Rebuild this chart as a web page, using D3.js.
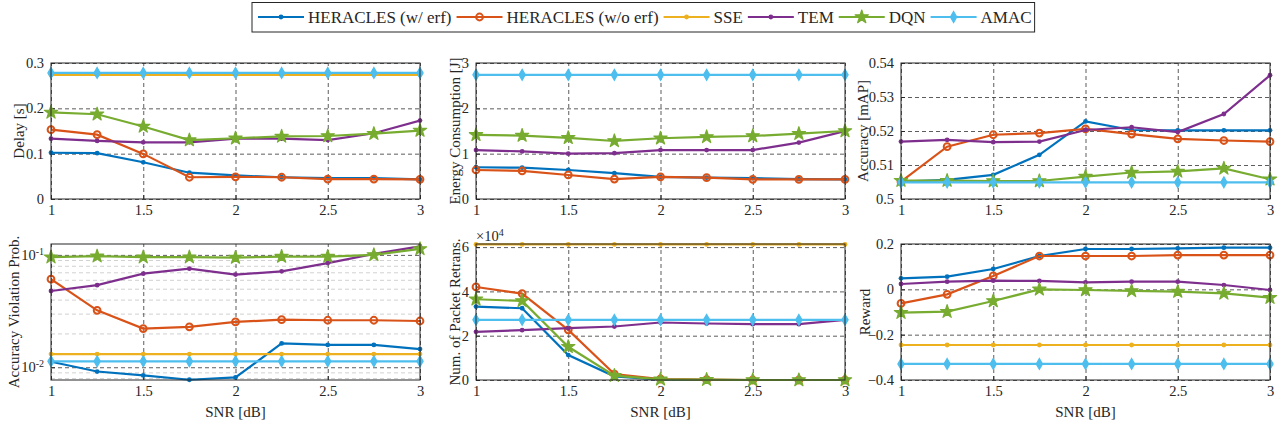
<!DOCTYPE html>
<html>
<head>
<meta charset="utf-8">
<script src="https://cdn.jsdelivr.net/npm/d3@7"></script>
<style>
  body { margin: 0; background: #fff; }
</style>
</head>
<body>
<svg id="chart" width="1284" height="428" font-family="Liberation Serif"></svg>
<script>
const FONT = 'Liberation Serif';

// x values shared by every panel
const snr = [1, 1.25, 1.5, 1.75, 2, 2.25, 2.5, 2.75, 3];
const xTickValues = [1, 1.5, 2, 2.5, 3];

const seriesNames = ['HERACLES (w/ erf)', 'HERACLES (w/o erf)', 'SSE', 'TEM', 'DQN', 'AMAC'];
const seriesColors = ['#0072BD', '#D95319', '#EDB120', '#7E2F8E', '#77AC30', '#4DBEEE'];
const seriesMarkers = ['dot', 'circle', 'dot', 'dot', 'star', 'diamond'];

// one row per series, same order as seriesNames (null = not shown)
const delay = [
  [0.102, 0.101, 0.081, 0.058, 0.052, 0.048, 0.046, 0.046, 0.0435],
  [0.153, 0.142, 0.0995, 0.048, 0.049, 0.048, 0.044, 0.044, 0.0435],
  [0.274, 0.274, 0.274, 0.274, 0.274, 0.274, 0.274, 0.274, 0.274],
  [0.133, 0.128, 0.125, 0.125, 0.133, 0.133, 0.130, 0.145, 0.173],
  [0.191, 0.187, 0.160, 0.130, 0.134, 0.138, 0.139, 0.144, 0.151],
  [0.278, 0.278, 0.278, 0.278, 0.278, 0.278, 0.278, 0.278, 0.278]
];

const energy = [
  [0.70, 0.69, 0.64, 0.57, 0.49, 0.47, 0.46, 0.44, 0.435],
  [0.64, 0.62, 0.53, 0.44, 0.49, 0.47, 0.435, 0.435, 0.435],
  null,
  [1.08, 1.05, 1.00, 1.01, 1.08, 1.08, 1.08, 1.245, 1.50],
  [1.415, 1.40, 1.35, 1.28, 1.34, 1.37, 1.39, 1.44, 1.50],
  [2.74, 2.74, 2.74, 2.74, 2.74, 2.74, 2.74, 2.74, 2.74]
];

const accuracy = [
  [0.5051, 0.5056, 0.5071, 0.5130, 0.5228, 0.5203, 0.5202, 0.5202, 0.5202],
  [0.5051, 0.5154, 0.5189, 0.5194, 0.5206, 0.5191, 0.5177, 0.5172, 0.5169],
  null,
  [0.5169, 0.5174, 0.5167, 0.5169, 0.5203, 0.5211, 0.5197, 0.5250, 0.5364],
  [0.5054, 0.5054, 0.5053, 0.5053, 0.5066, 0.5078, 0.5081, 0.5090, 0.5058],
  [0.5049, 0.5049, 0.5049, 0.5049, 0.5049, 0.5049, 0.5049, 0.5049, 0.5049]
];

const violation = [
  [0.0112, 0.00916, 0.00845, 0.00774, 0.00811, 0.0163, 0.0158, 0.0158, 0.0145],
  [0.0608, 0.0321, 0.0221, 0.0229, 0.0253, 0.0265, 0.0262, 0.0262, 0.0258],
  [0.0131, 0.0131, 0.0131, 0.0131, 0.0131, 0.0131, 0.0131, 0.0131, 0.0131],
  [0.0477, 0.0538, 0.0681, 0.0754, 0.0668, 0.0714, 0.0845, 0.102, 0.119],
  [0.0954, 0.0973, 0.0954, 0.0954, 0.0947, 0.0967, 0.0967, 0.100, 0.113],
  [0.0113, 0.0113, 0.0113, 0.0113, 0.0113, 0.0113, 0.0113, 0.0113, 0.0113]
];

const retrans = [
  [33150, 32400, 11250, 1650, 150, 0, 0, 0, 0],
  [42000, 39000, 22650, 2700, 450, 150, 0, 0, 0],
  [61200, 61200, 61200, 61200, 61200, 61200, 61200, 61200, 61200],
  [21750, 22500, 23400, 24150, 25950, 25500, 25200, 25200, 27150],
  [36450, 35700, 15000, 1950, 300, 150, 0, 0, 0],
  [27150, 27150, 27150, 27150, 27150, 27150, 27150, 27150, 27150]
];

const reward = [
  [0.0485, 0.056, 0.0897, 0.147, 0.178, 0.178, 0.181, 0.184, 0.184],
  [-0.062, -0.022, 0.059, 0.147, 0.147, 0.147, 0.151, 0.151, 0.151],
  [-0.2456, -0.2456, -0.2456, -0.2456, -0.2456, -0.2456, -0.2456, -0.2456, -0.2456],
  [0.0235, 0.034, 0.038, 0.037, 0.031, 0.034, 0.034, 0.019, -0.003],
  [-0.103, -0.0985, -0.0515, 0, -0.003, -0.007, -0.010, -0.018, -0.037],
  [-0.329, -0.329, -0.329, -0.329, -0.329, -0.329, -0.329, -0.329, -0.329]
];

const svg = d3.select('#chart');

const colLeft = [51, 476, 901];
const colRight = [420, 845, 1270];
const rowTop = [63, 244];
const rowBottom = [199, 380];

const panels = [
  { data: delay, col: 0, row: 0, domain: [0, 0.3], ticks: [0, 0.1, 0.2, 0.3], fmt: d3.format('~g'), label: 'Delay [s]', labelOff: 32 },
  { data: energy, col: 1, row: 0, domain: [0, 3], ticks: [0, 1, 2, 3], fmt: d3.format('~g'), label: 'Energy Consumption [J]', labelOff: 21 },
  { data: accuracy, col: 2, row: 0, domain: [0.5, 0.54], ticks: [0.5, 0.51, 0.52, 0.53, 0.54], fmt: d3.format('~g'), label: 'Accuracy [mAP]', labelOff: 38 },
  { data: violation, col: 0, row: 1, domain: [0.0077, 0.125], ticks: [0.01, 0.1], log: true, label: 'Accuracy Violation Prob.', labelOff: 37, xLabel: true },
  { data: retrans, col: 1, row: 1, domain: [0, 61400], ticks: [0, 20000, 40000, 60000], fmt: d => d / 1e4, label: 'Num. of Packet Retrans.', labelOff: 21, xLabel: true, exponent: 4 },
  { data: reward, col: 2, row: 1, domain: [-0.4, 0.2], ticks: [-0.4, -0.2, 0, 0.2], fmt: d3.format('~g'), label: 'Reward', labelOff: 36, xLabel: true }
];

function drawMarker(sel, kind, color) {
  const sym = d3.symbol();
  if (kind === 'dot') {
    sel.append('path').attr('d', sym.type(d3.symbolCircle).size(18)()).attr('fill', color);
  } else if (kind === 'circle') {
    sel.append('path').attr('d', sym.type(d3.symbolCircle).size(36)())
      .attr('fill', 'none').attr('stroke', color).attr('stroke-width', 2);
  } else if (kind === 'star') {
    sel.append('path').attr('d', sym.type(d3.symbolStar).size(55)())
      .attr('fill', color).attr('stroke', color).attr('stroke-width', 1.2).attr('stroke-linejoin', 'round');
  } else if (kind === 'diamond') {
    sel.append('path').attr('d', sym.type(d3.symbolDiamond).size(34)())
      .attr('fill', color).attr('stroke', color).attr('stroke-width', 1.2);
  }
}

function styleTicks(a) {
  a.attr('font-family', FONT);
  a.select('.domain').remove();
}

panels.forEach((p, i) => {
  const left = colLeft[p.col], right = colRight[p.col];
  const top = rowTop[p.row], bottom = rowBottom[p.row];

  const x = d3.scaleLinear().domain([1, 3]).range([left, right]);
  const y = (p.log ? d3.scaleLog() : d3.scaleLinear()).domain(p.domain).range([bottom, top]);

  const g = svg.append('g');

  // minor grid on the log panel
  if (p.log) {
    const minor = [];
    [0.001, 0.01, 0.1].forEach(dec => {
      for (let k = 2; k <= 9; k++) {
        const v = dec * k;
        if (v > p.domain[0] && v < p.domain[1]) minor.push(v);
      }
    });
    g.append('g')
      .attr('transform', `translate(${left},0)`)
      .call(d3.axisLeft(y).tickValues(minor).tickSize(-(right - left)).tickFormat(''))
      .call(styleTicks)
      .call(a => a.selectAll('line').attr('stroke', '#c4c4c4').attr('stroke-dasharray', '4,3').attr('stroke-width', 0.8));
  }

  // major grid
  g.append('g')
    .attr('transform', `translate(0,${bottom})`)
    .call(d3.axisBottom(x).tickValues(xTickValues).tickSize(-(bottom - top)).tickFormat(''))
    .call(styleTicks)
    .call(a => a.selectAll('line').attr('stroke', '#333').attr('stroke-dasharray', '4,3').attr('stroke-width', 0.8));
  g.append('g')
    .attr('transform', `translate(${left},0)`)
    .call(d3.axisLeft(y).tickValues(p.ticks).tickSize(-(right - left)).tickFormat(''))
    .call(styleTicks)
    .call(a => a.selectAll('line').attr('stroke', '#333').attr('stroke-dasharray', '4,3').attr('stroke-width', 0.8));

  // tick labels and inward ticks
  g.append('g')
    .attr('transform', `translate(0,${bottom})`)
    .call(d3.axisBottom(x).tickValues(xTickValues).tickSize(-4).tickPadding(6).tickFormat(d3.format('~g')))
    .call(styleTicks)
    .call(a => a.selectAll('line').attr('stroke', '#262626'))
    .call(a => a.selectAll('text').attr('font-size', '14.5px').attr('font-family', FONT).attr('fill', '#262626'));

  const yAxis = g.append('g')
    .attr('transform', `translate(${left},0)`)
    .call(d3.axisLeft(y).tickValues(p.ticks).tickSize(-4).tickPadding(7).tickFormat(p.log ? '' : p.fmt))
    .call(styleTicks)
    .call(a => a.selectAll('line').attr('stroke', '#262626'))
    .call(a => a.selectAll('text').attr('font-size', '14.5px').attr('font-family', FONT).attr('fill', '#262626'));

  if (p.log) {
    yAxis.selectAll('.tick text').each(function (d) {
      const t = d3.select(this);
      t.append('tspan').text('10');
      t.append('tspan').attr('dy', '-0.55em').attr('font-size', '10px').text(Math.round(Math.log10(d)));
    });
  }

  // clip lines to the plot box
  const clipId = 'clip' + i;
  svg.append('clipPath').attr('id', clipId)
    .append('rect').attr('x', left).attr('y', top - 1).attr('width', right - left).attr('height', bottom - top + 2);

  const line = d3.line().x((d, k) => x(snr[k])).y(d => y(d));

  p.data.forEach((vals, s) => {
    if (!vals) return;
    g.append('path')
      .attr('d', line(vals))
      .attr('fill', 'none')
      .attr('stroke', seriesColors[s])
      .attr('stroke-width', 2.2)
      .attr('clip-path', `url(#${clipId})`);
    const m = g.append('g').selectAll('g')
      .data(vals)
      .enter().append('g')
      .attr('transform', (d, k) => `translate(${x(snr[k])},${y(d)})`);
    drawMarker(m, seriesMarkers[s], seriesColors[s]);
  });

  // box
  g.append('rect')
    .attr('x', left).attr('y', top)
    .attr('width', right - left).attr('height', bottom - top)
    .attr('fill', 'none').attr('stroke', '#262626').attr('stroke-width', 1);

  // y label
  const cy = (top + bottom) / 2;
  g.append('text')
    .attr('transform', `translate(${left - p.labelOff},${cy}) rotate(-90)`)
    .attr('text-anchor', 'middle')
    .attr('dominant-baseline', 'central')
    .attr('font-family', FONT)
    .attr('font-size', '15px')
    .attr('fill', '#262626')
    .text(p.label);

  if (p.xLabel) {
    g.append('text')
      .attr('x', (left + right) / 2).attr('y', bottom + 32)
      .attr('text-anchor', 'middle')
      .attr('dominant-baseline', 'central')
      .attr('font-family', FONT)
      .attr('font-size', '15px')
      .attr('fill', '#262626')
      .text('SNR [dB]');
  }

  if (p.exponent) {
    const e = g.append('text').attr('x', left).attr('y', top - 3)
      .attr('font-family', FONT).attr('font-size', '14.5px').attr('fill', '#262626');
    e.append('tspan').text('\u00d710');
    e.append('tspan').attr('dy', '-0.55em').attr('font-size', '10px').text(p.exponent);
  }
});

// legend
const legend = svg.append('g');
const legendBox = legend.append('rect')
  .attr('x', 252).attr('y', 2.5).attr('height', 29.5)
  .attr('fill', '#fff').attr('stroke', '#262626').attr('stroke-width', 1);

let cursor = 258;
const legendY = 17;
seriesNames.forEach((name, s) => {
  const item = legend.append('g');
  item.append('line')
    .attr('x1', cursor).attr('x2', cursor + 46)
    .attr('y1', legendY).attr('y2', legendY)
    .attr('stroke', seriesColors[s]).attr('stroke-width', 2.2);
  const m = item.append('g').attr('transform', `translate(${cursor + 23},${legendY})`);
  drawMarker(m, seriesMarkers[s], seriesColors[s]);
  const t = item.append('text')
    .attr('x', cursor + 50).attr('y', legendY)
    .attr('dominant-baseline', 'central')
    .attr('font-family', FONT)
    .attr('font-size', '17px')
    .attr('fill', '#262626')
    .text(name);
  cursor += 50 + t.node().getComputedTextLength() + 5;
});
legendBox.attr('width', cursor - 252 - 2);
</script>
</body>
</html>
